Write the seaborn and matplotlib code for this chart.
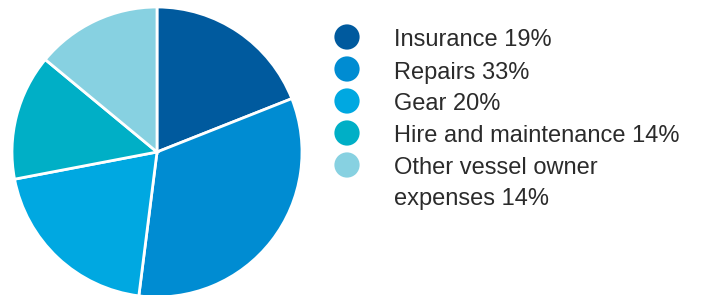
import matplotlib
matplotlib.use("Agg")
import matplotlib.pyplot as plt
import seaborn as sns

categories = ["Insurance", "Repairs", "Gear", "Hire and maintenance", "Other vessel owner\nexpenses"]
shares = [19, 33, 20, 14, 14]
colors = ["#005a9e", "#008cd2", "#00a8e1", "#00afc6", "#87d1e1"]

sns.set_theme(style="white")
plt.rcParams["font.family"] = ["Liberation Sans", "DejaVu Sans"]

W, H = 703, 295
fig = plt.figure(figsize=(W / 100, H / 100), dpi=100)
fig.patch.set_facecolor("white")

R = 145
cx, cy = 157, 152
ax = fig.add_axes([(cx - R) / W, (H - cy - R) / H, 2 * R / W, 2 * R / H])
ax.pie(shares, colors=colors, startangle=90, counterclock=False,
       wedgeprops=dict(edgecolor="white", linewidth=2))
ax.set_xlim(-1, 1)
ax.set_ylim(-1, 1)
ax.set_aspect("equal")
ax.axis("off")

lax = fig.add_axes([0, 0, 1, 1])
lax.set_xlim(0, W)
lax.set_ylim(H, 0)
lax.axis("off")
y = 37
for cat, val, col in zip(categories, shares, colors):
    lax.scatter([347], [y], s=330, color=col, edgecolors="none")
    lines = f"{cat} {val}%".split("\n")
    for i, line in enumerate(lines):
        lax.text(394, y + 9.5 + i * 31, line, fontsize=17, color="#2b2b2b",
                 va="baseline", ha="left")
    y += 32

fig.savefig("out.png", dpi=100, facecolor="white")
